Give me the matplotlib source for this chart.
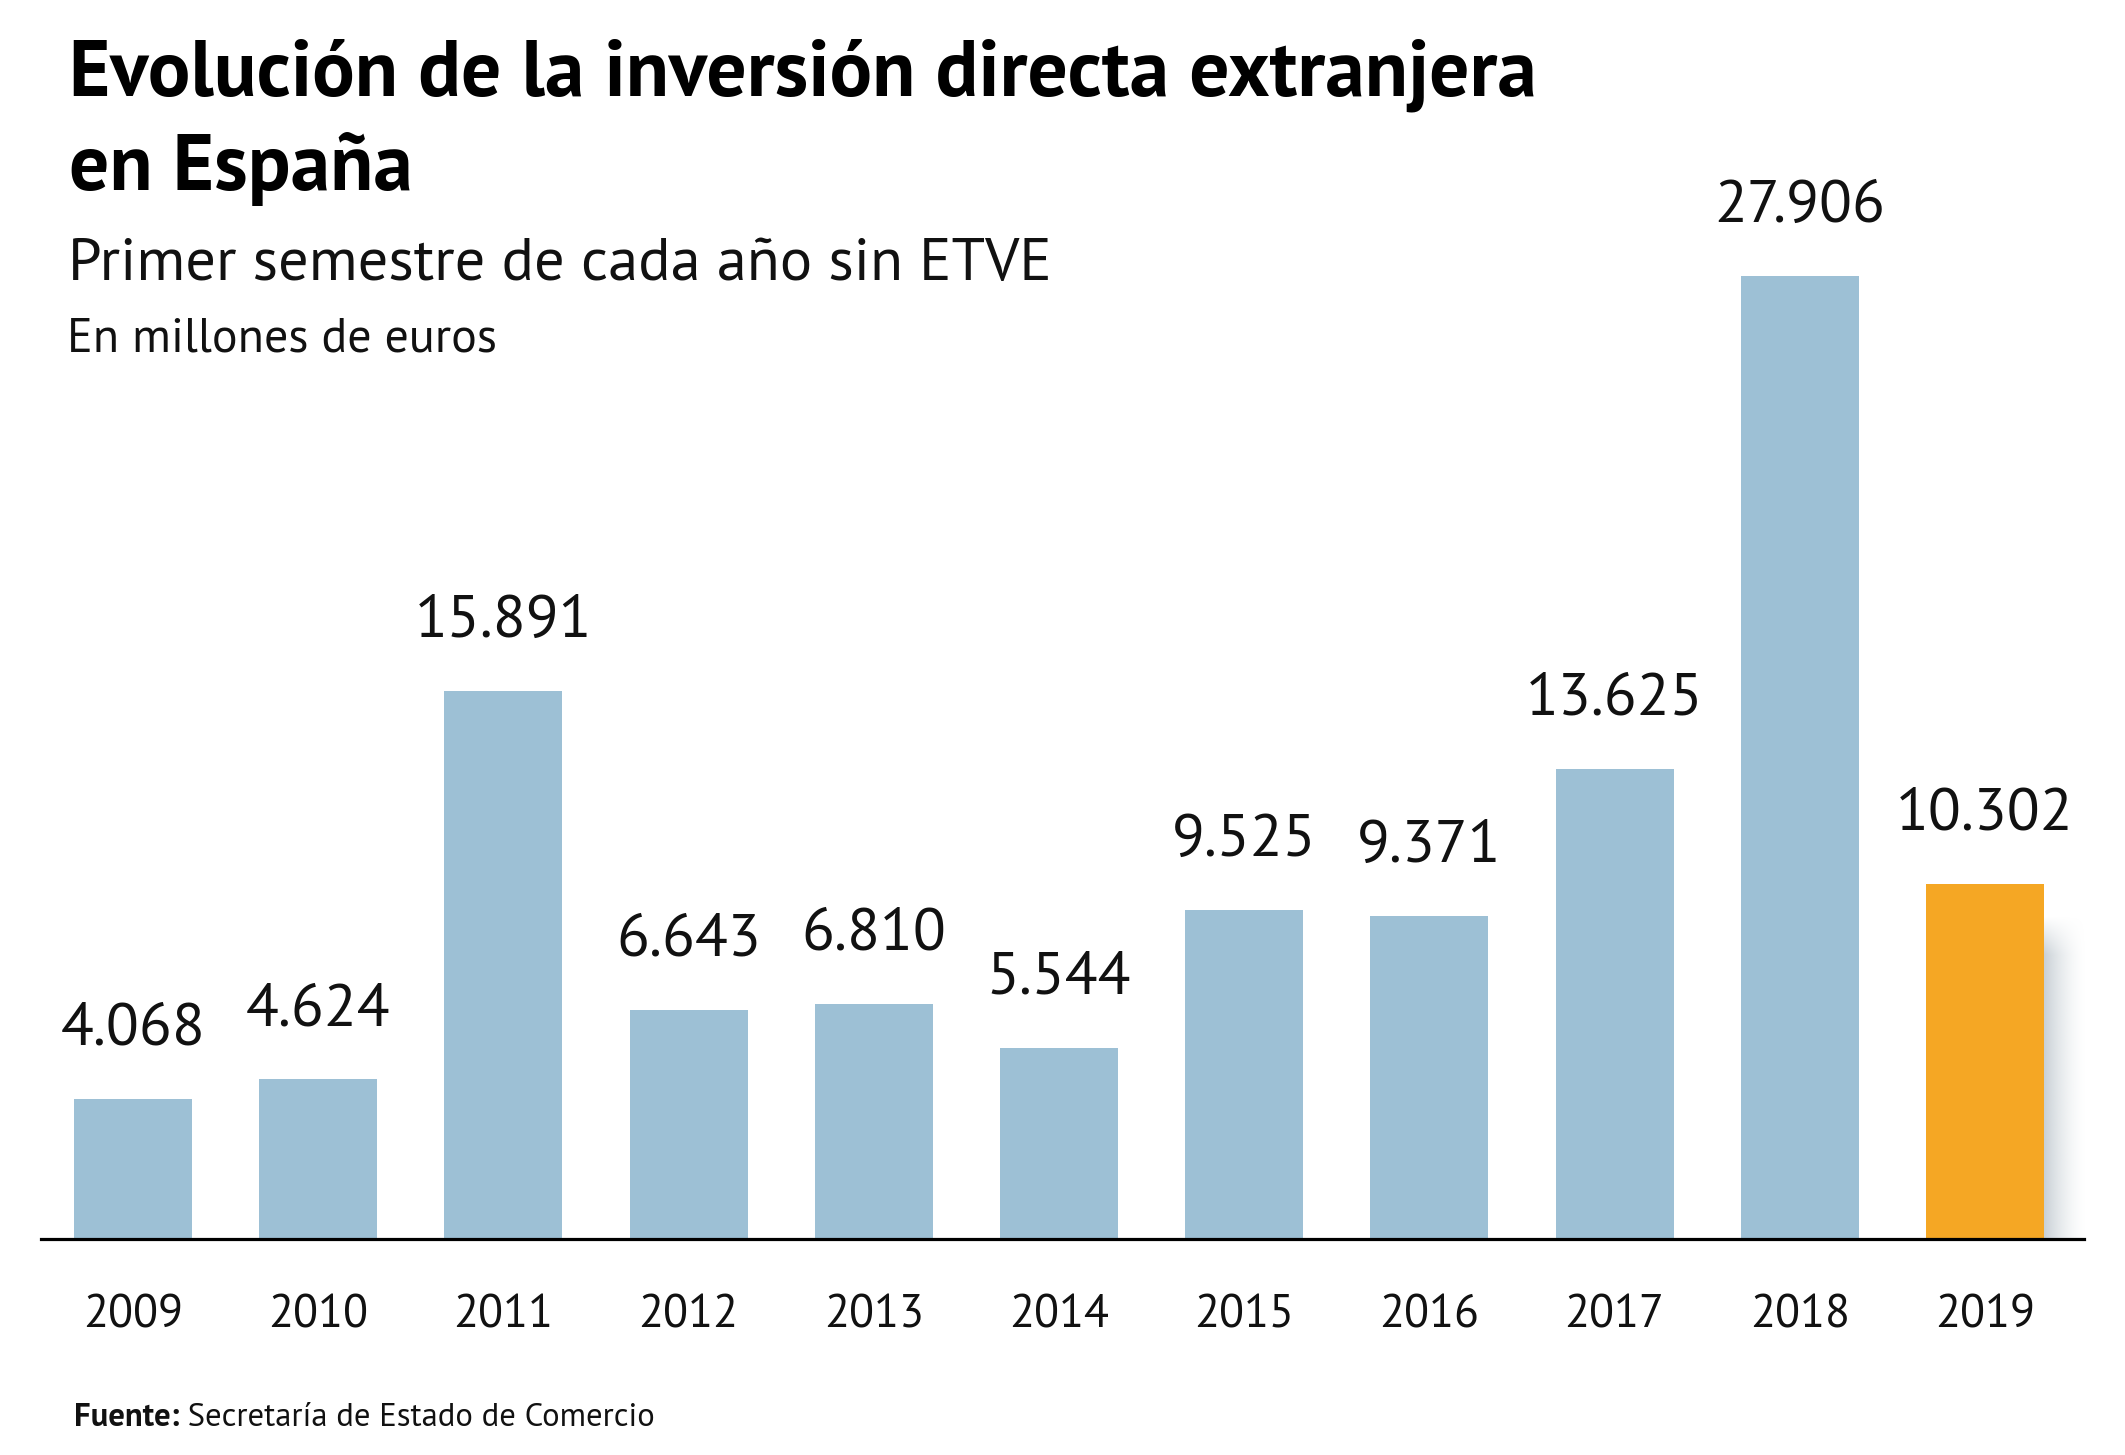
import matplotlib
matplotlib.use('Agg')
import matplotlib.pyplot as plt
import numpy as np

years = ['2009', '2010', '2011', '2012', '2013', '2014', '2015', '2016', '2017', '2018', '2019']
values = [4068, 4624, 15891, 6643, 6810, 5544, 9525, 9371, 13625, 27906, 10302]
value_labels = ['4.068', '4.624', '15.891', '6.643', '6.810', '5.544', '9.525', '9.371', '13.625', '27.906', '10.302']
highlight = '2019'

title_line1 = 'Evolución de la inversión directa extranjera'
title_line2 = 'en España'
subtitle = 'Primer semestre de cada año sin ETVE'
units = 'En millones de euros'
source_bold = 'Fuente:'
source_text = ' Secretaría de Estado de Comercio'

BLUE = '#9dc0d5'
ORANGE = '#f5a724'
TEXT = '#111111'
FONT = 'PT Sans'
plt.rcParams['font.family'] = [FONT, 'DejaVu Sans']

W, H = 2125, 1455
fig = plt.figure(figsize=(W / 100, H / 100), dpi=100)
ax = fig.add_axes([41 / W, 216 / H, 2043 / W, 1039 / H])

x = np.arange(len(years))
bar_w = 0.637
colors = [ORANGE if y == highlight else BLUE for y in years]
bars = ax.bar(x, values, width=bar_w, color=colors, zorder=3)

# soft drop shadow behind the highlighted bar
hi = years.index(highlight)
hv = values[hi]
sx0 = x[hi] + bar_w / 2
sx1 = sx0 + 0.225
stop = hv - 950
ny, nx = 200, 60
gx = np.linspace(0, 1, nx)
gy = np.linspace(0, stop, ny)
ax_h = (1 - gx) ** 1.6
ay = np.clip((stop - gy) / 1100.0, 0, 1)
alpha = np.outer(ay, ax_h) * 0.95
img = np.zeros((ny, nx, 4))
img[..., 0] = 198 / 255
img[..., 1] = 206 / 255
img[..., 2] = 212 / 255
img[..., 3] = alpha
ax.imshow(img, extent=[sx0, sx1, 0, stop], origin='lower', aspect='auto',
          interpolation='bilinear', zorder=2)

ax.set_xlim(-0.497, 10.535)
ax.set_ylim(0, 30116)
for s in ['top', 'right', 'left']:
    ax.spines[s].set_visible(False)
ax.spines['bottom'].set_linewidth(2.3)
ax.spines['bottom'].set_color('#000000')
ax.spines['bottom'].set_zorder(4)
ax.set_yticks([])
ax.set_xticks([])

for xi, v, lab in zip(x, values, value_labels):
    ax.annotate(lab, (xi, v), xytext=(0, 39), textcoords='offset points',
                ha='center', va='baseline', fontsize=43.5, color=TEXT)
for xi, y in zip(x, years):
    ax.annotate(y, (xi, 0), xytext=(0, -63.4), textcoords='offset points',
                ha='center', va='baseline', fontsize=33, color=TEXT)

fig.text(69 / W, 1 - 96 / H, title_line1, fontsize=57.2, fontweight='bold',
         va='baseline', ha='left', color='#000000')
fig.text(69 / W, 1 - 190 / H, title_line2, fontsize=57.2, fontweight='bold',
         va='baseline', ha='left', color='#000000')
fig.text(68 / W, 1 - 280 / H, subtitle, fontsize=43.5, va='baseline', ha='left', color=TEXT)
fig.text(67 / W, 1 - 351 / H, units, fontsize=34.6, va='baseline', ha='left', color=TEXT)

fb = fig.text(74 / W, 1 - 1426 / H, source_bold, fontsize=23.5, fontweight='bold',
              va='baseline', ha='left', color=TEXT)
fig.canvas.draw()
bb = fb.get_window_extent()
fig.text(bb.x1 / W, 1 - 1426 / H, source_text, fontsize=23.5,
         va='baseline', ha='left', color=TEXT)

fig.savefig('out.png', dpi=100, facecolor='white')
